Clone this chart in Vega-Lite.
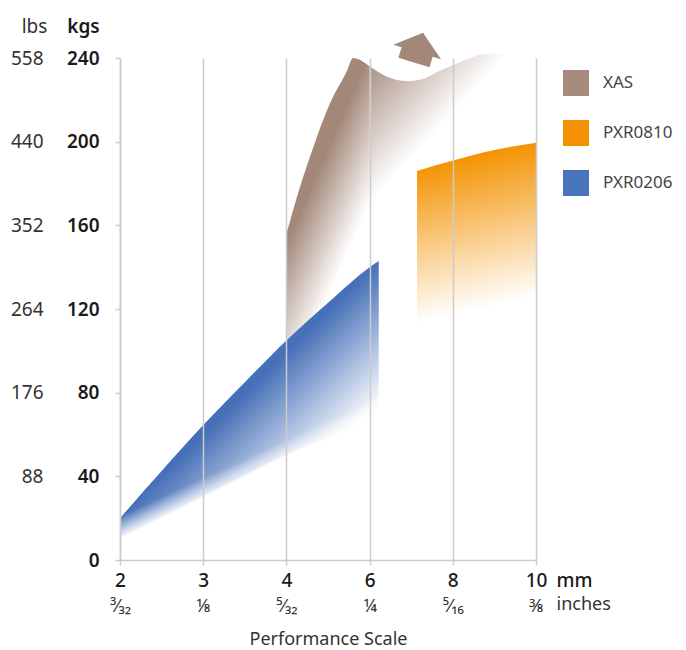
{
  "$schema": "https://vega.github.io/schema/vega-lite/v6.json",
  "width": 416,
  "height": 502,
  "autosize": {"type": "none"},
  "padding": {"left": 120, "top": 58, "right": 150, "bottom": 90},
  "background": "#ffffff",
  "config": {
    "font": "Noto Sans",
    "view": {"stroke": null},
    "axis": {"labelFont": "Noto Sans", "titleFont": "Noto Sans"},
    "legend": {"labelFont": "Noto Sans"}
  },
  "datasets": {
    "xas": [
      {"part": "a", "idx": 2.0, "top": 156, "bot": 79.7},
      {"part": "a", "idx": 2.16, "top": 178, "bot": 94.2},
      {"part": "a", "idx": 2.32, "top": 197, "bot": 108.8},
      {"part": "a", "idx": 2.52, "top": 218, "bot": 127.4},
      {"part": "a", "idx": 2.73, "top": 234, "bot": 146.6},
      {"part": "a", "idx": 2.8, "top": 240, "bot": 152.9},
      {"part": "a", "idx": 3.0, "top": 236, "bot": 170.6},
      {"part": "b", "idx": 3.0, "top": 236, "bot": 170.6},
      {"part": "b", "idx": 3.21, "top": 231, "bot": 179.5},
      {"part": "b", "idx": 3.45, "top": 229, "bot": 189.8},
      {"part": "b", "idx": 3.64, "top": 230, "bot": 198},
      {"part": "b", "idx": 3.85, "top": 234, "bot": 207},
      {"part": "b", "idx": 4.09, "top": 238, "bot": 217.4},
      {"part": "b", "idx": 4.41, "top": 242, "bot": 231.1},
      {"part": "b", "idx": 4.72, "top": 241.5, "bot": 240},
      {"part": "b", "idx": 4.96, "top": 238, "bot": 237}
    ],
    "pxr0810": [
      {"idx": 3.57, "top": 186, "bot": 113},
      {"idx": 4.0, "top": 191, "bot": 116},
      {"idx": 4.5, "top": 196, "bot": 121},
      {"idx": 5.0, "top": 199.5, "bot": 126}
    ],
    "pxr0206": [
      {"idx": 0, "top": 20, "bot": 10},
      {"idx": 0.5, "top": 42.5, "bot": 20},
      {"idx": 1, "top": 64.5, "bot": 30},
      {"idx": 1.5, "top": 85, "bot": 40},
      {"idx": 2, "top": 105, "bot": 50},
      {"idx": 2.5, "top": 123, "bot": 58},
      {"idx": 3, "top": 140, "bot": 65},
      {"idx": 3.11, "top": 143, "bot": 67}
    ],
    "arrow": [{"idx": 3.554, "kg": 240.6}],
    "legend": [{"series": "XAS"}, {"series": "PXR0810"}, {"series": "PXR0206"}]
  },
  "layer": [
    {
      "data": {"name": "xas"},
      "transform": [{"filter": "datum.part === 'a'"}],
      "mark": {
        "type": "area",
        "interpolate": "monotone",
        "fill": {
          "gradient": "linear",
          "x1": 0, "y1": 0.5533, "x2": 0.1914, "y2": 0.891,
          "stops": [{"offset": 0, "color": "#a38879"}, {"offset": 1, "color": "#ffffff"}]
        }
      },
      "encoding": {
        "x": {
          "field": "idx", "type": "quantitative",
          "scale": {"domain": [0, 5], "nice": false, "zero": false},
          "axis": {
            "orient": "bottom", "values": [0, 1, 2, 3, 4, 5],
            "labelExpr": "['2','3','4','6','8','10'][datum.value]",
            "grid": true, "gridColor": "#cccccc", "gridWidth": 1.5,
            "domainColor": "#cccccc", "domainWidth": 1.5,
            "tickColor": "#cccccc", "tickSize": 5, "tickWidth": 1.5,
            "labelFontSize": 19, "labelFontWeight": 500, "labelColor": "#1a1a1a",
            "labelBaseline": "alphabetic", "labelPadding": 21,
            "labelFlush": false, "labelOverlap": false,
            "title": "mm", "titleX": 436, "titleY": 26, "titleAlign": "left",
            "titleBaseline": "alphabetic", "titleFontSize": 19, "titleFontWeight": 500,
            "titleColor": "#1a1a1a", "zindex": 1
          }
        },
        "y": {
          "field": "top", "type": "quantitative",
          "scale": {"domain": [0, 240], "nice": false, "zero": false},
          "axis": {
            "orient": "left", "values": [0, 40, 80, 120, 160, 200, 240],
            "grid": false, "domainColor": "#cccccc", "domainWidth": 1.5,
            "tickColor": "#cccccc", "tickSize": 5, "tickWidth": 1.5,
            "labelFontSize": 19, "labelFontWeight": 600, "labelColor": "#1a1a1a",
            "labelPadding": 16, "labelFlush": false, "labelOverlap": false,
            "title": "kgs", "titleAngle": 0, "titleX": -37, "titleY": -26,
            "titleAlign": "center", "titleBaseline": "alphabetic",
            "titleFontSize": 19, "titleFontWeight": 600, "titleColor": "#1a1a1a",
            "zindex": 1
          }
        },
        "y2": {"field": "bot"}
      }
    },
    {
      "data": {"name": "xas"},
      "transform": [{"filter": "datum.part === 'b'"}],
      "mark": {
        "type": "area",
        "interpolate": "monotone",
        "fill": {
          "gradient": "linear",
          "x1": 0, "y1": 0, "x2": 0.4939, "y2": 0.4182,
          "stops": [{"offset": 0, "color": "#a38879"}, {"offset": 1, "color": "#ffffff"}]
        }
      },
      "encoding": {
        "x": {"field": "idx", "type": "quantitative", "scale": {"domain": [0, 5], "nice": false, "zero": false}, "axis": null},
        "y": {"field": "top", "type": "quantitative", "scale": {"domain": [0, 240], "nice": false, "zero": false}, "axis": null},
        "y2": {"field": "bot"}
      }
    },
    {
      "data": {"name": "pxr0810"},
      "mark": {
        "type": "area",
        "interpolate": "monotone",
        "fill": {
          "gradient": "linear",
          "x1": 0.373, "y1": 0.075, "x2": 0.5, "y2": 0.925,
          "stops": [{"offset": 0, "color": "#f39200"}, {"offset": 1, "color": "#ffffff"}]
        }
      },
      "encoding": {
        "x": {
          "field": "idx", "type": "quantitative",
          "scale": {"domain": [0, 5], "nice": false, "zero": false},
          "axis": {
            "orient": "bottom", "values": [0, 1, 2, 3, 4, 5],
            "labelExpr": "['³⁄₃₂','⅛','⁵⁄₃₂','¼','⁵⁄₁₆','⅜'][datum.value]",
            "grid": false, "domain": false, "ticks": false, "tickSize": 0,
            "labelFontSize": 18, "labelColor": "#333333",
            "labelBaseline": "alphabetic", "labelPadding": 51,
            "labelFlush": false, "labelOverlap": false,
            "title": "inches", "titleX": 436, "titleY": 49, "titleAlign": "left",
            "titleBaseline": "alphabetic", "titleFontSize": 18, "titleFontWeight": "normal",
            "titleColor": "#333333"
          }
        },
        "y": {
          "field": "top", "type": "quantitative",
          "scale": {"domain": [0, 240], "nice": false, "zero": false},
          "axis": {
            "orient": "left", "offset": 70, "values": [40, 80, 120, 160, 200, 240],
            "labelExpr": "['88','176','264','352','440','558'][datum.value/40-1]",
            "grid": false, "domain": false, "ticks": false, "tickSize": 0,
            "labelFontSize": 19, "labelColor": "#333333", "labelPadding": 7,
            "labelFlush": false, "labelOverlap": false,
            "title": "lbs", "titleAngle": 0, "titleX": -16, "titleY": -26,
            "titleAlign": "center", "titleBaseline": "alphabetic",
            "titleFontSize": 19, "titleFontWeight": "normal", "titleColor": "#333333"
          }
        },
        "y2": {"field": "bot"}
      }
    },
    {
      "data": {"name": "pxr0206"},
      "mark": {
        "type": "area",
        "interpolate": "monotone",
        "fill": {
          "gradient": "linear",
          "x1": 0, "y1": 0.9247, "x2": 0.2624, "y2": 1.2084,
          "stops": [{"offset": 0, "color": "#4670b8"}, {"offset": 1, "color": "#ffffff"}]
        }
      },
      "encoding": {
        "x": {
          "field": "idx", "type": "quantitative",
          "scale": {"domain": [0, 5], "nice": false, "zero": false},
          "axis": {
            "orient": "bottom", "labels": false, "ticks": false, "tickSize": 0,
            "domain": false, "grid": false,
            "title": "Performance Scale", "titleX": 208, "titleY": 84,
            "titleAlign": "center", "titleBaseline": "alphabetic",
            "titleFontSize": 18, "titleFontWeight": "normal", "titleColor": "#333333"
          }
        },
        "y": {
          "field": "top", "type": "quantitative",
          "scale": {"domain": [0, 240], "nice": false, "zero": false},
          "axis": null
        },
        "y2": {"field": "bot"}
      }
    },
    {
      "data": {"name": "pxr0206"},
      "mark": {
        "type": "area",
        "interpolate": "monotone",
        "fill": {
          "gradient": "linear",
          "x1": 0, "y1": 0.9173, "x2": 0.02995, "y2": 0.9872,
          "stops": [{"offset": 0, "color": "rgba(255,255,255,0)"}, {"offset": 1, "color": "rgba(255,255,255,1)"}]
        },
        "stroke": {
          "gradient": "linear",
          "x1": 0, "y1": 0.9173, "x2": 0.02995, "y2": 0.9872,
          "stops": [{"offset": 0, "color": "rgba(255,255,255,0)"}, {"offset": 1, "color": "rgba(255,255,255,1)"}]
        },
        "strokeWidth": 2
      },
      "encoding": {
        "x": {"field": "idx", "type": "quantitative", "scale": {"domain": [0, 5], "nice": false, "zero": false}, "axis": null},
        "y": {"field": "top", "type": "quantitative", "scale": {"domain": [0, 240], "nice": false, "zero": false}, "axis": null},
        "y2": {"field": "bot"}
      }
    },
    {
      "data": {"name": "arrow"},
      "mark": {
        "type": "point",
        "shape": "M0,-1 L1,-0.2 L0.65,-0.2 L0.65,0.24 L-0.65,0.24 L-0.65,-0.2 L-1,-0.2 Z",
        "size": 2500,
        "angle": 17,
        "filled": true,
        "fill": "#a38879",
        "opacity": 1,
        "strokeWidth": 0
      },
      "encoding": {
        "x": {"field": "idx", "type": "quantitative", "scale": {"domain": [0, 5], "nice": false, "zero": false}, "axis": null},
        "y": {"field": "kg", "type": "quantitative", "scale": {"domain": [0, 240], "nice": false, "zero": false}, "axis": null}
      }
    },
    {
      "data": {"name": "legend"},
      "mark": {"type": "point", "filled": true, "shape": "square", "opacity": 0, "size": 0},
      "encoding": {
        "color": {
          "field": "series", "type": "nominal",
          "scale": {"domain": ["XAS", "PXR0810", "PXR0206"], "range": ["#a68b7c", "#f39200", "#4a73bd"]},
          "legend": {
            "orient": "none", "legendX": 443, "legendY": 12, "title": null,
            "symbolType": "square", "symbolSize": 676, "symbolStrokeWidth": 0,
            "symbolOpacity": 1, "labelFontSize": 17, "labelColor": "#444444",
            "labelOffset": 14, "rowPadding": 24, "padding": 0
          }
        }
      }
    }
  ],
  "resolve": {"axis": {"x": "independent", "y": "independent"}}
}
